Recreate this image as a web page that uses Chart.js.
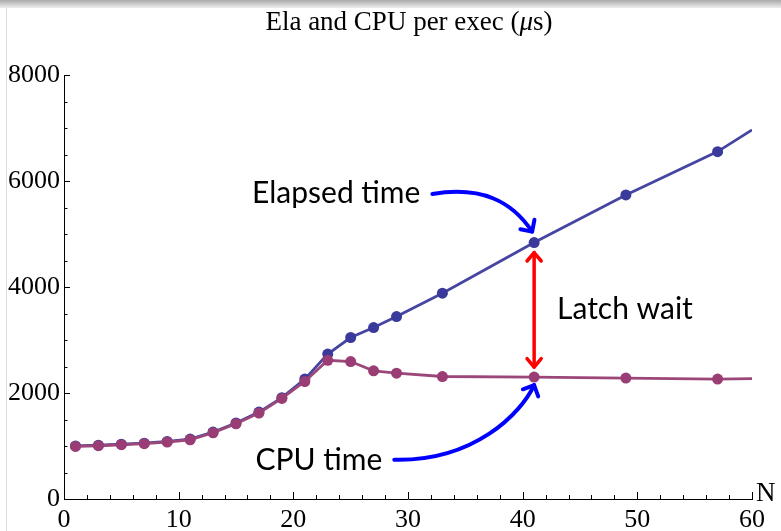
<!DOCTYPE html>
<html>
<head>
<meta charset="utf-8">
<script src="https://cdn.jsdelivr.net/npm/chart.js@4.4.1/dist/chart.umd.min.js"></script>
<style>
  html, body { margin: 0; padding: 0; background: #fff; }
  #wrap { width: 781px; height: 531px; }
</style>
</head>
<body>
<div id="wrap"><canvas id="elaChart" width="781" height="531"></canvas></div>
<script>
// DATA (microseconds per exec)
const nValues = [1, 3, 5, 7, 9, 11, 13, 15, 17, 19, 21, 23, 25, 27, 29, 33, 41, 49, 57, 60];
const elapsedUs = [1002, 1014, 1034, 1054, 1086, 1130, 1262, 1435, 1640, 1912, 2262, 2734, 3047, 3235, 3443, 3884, 4838, 5737, 6554, 6963];
const cpuUs = [992, 1005, 1024, 1043, 1075, 1118, 1250, 1420, 1621, 1897, 2217, 2617, 2594, 2419, 2375, 2311, 2300, 2281, 2262, 2272];
const xTicks = [0, 10, 20, 30, 40, 50, 60];
const yTicks = [0, 2000, 4000, 6000, 8000];

const titleParts = ["Ela and CPU per exec (", "\u03bc", "s)"];
const labelElapsed = "Elapsed time";
const labelCpu = "CPU time";
const labelLatch = "Latch wait";
const markIndex = nValues.indexOf(41);

const serif = "'Liberation Serif', 'Times New Roman', serif";
const sans = "Lato, 'Noto Sans', sans-serif";

const toXY = (ys) => nValues.map((n, i) => ({ x: n, y: ys[i] }));
// last entry is just where the line leaves the frame, no marker there
const markerSize = (ctx) => (ctx.dataIndex === nValues.length - 1 ? 0 : 5.5);

function arrowHead(ctx, tx, ty, ang, len, spread) {
  ctx.beginPath();
  ctx.moveTo(tx - len * Math.cos(ang - spread), ty - len * Math.sin(ang - spread));
  ctx.lineTo(tx, ty);
  ctx.lineTo(tx - len * Math.cos(ang + spread), ty - len * Math.sin(ang + spread));
  ctx.stroke();
}

// background strip + mathematica style inner ticks
const frame = {
  id: "frame",
  beforeDraw(chart) {
    const c = chart.ctx;
    c.save();
    const g = c.createLinearGradient(0, 0, 0, 8);
    g.addColorStop(0, "#a9a9a9");
    g.addColorStop(1, "#eeeeee");
    c.fillStyle = g;
    c.fillRect(0, 0, chart.width, 8);
    c.strokeStyle = "#dcdcdc";
    c.lineWidth = 1;
    c.beginPath();
    c.moveTo(6.5, 8);
    c.lineTo(6.5, chart.height);
    c.stroke();

    // title with italic mu
    c.fillStyle = "#000";
    c.textBaseline = "alphabetic";
    const f1 = "27px " + serif, f2 = "italic 27px " + serif;
    c.font = f1;
    const w0 = c.measureText(titleParts[0]).width;
    const w2 = c.measureText(titleParts[2]).width;
    c.font = f2;
    const w1 = c.measureText(titleParts[1]).width;
    let x = 409 - (w0 + w1 + w2) / 2;
    const y = 30;
    c.font = f1; c.fillText(titleParts[0], x, y); x += w0;
    c.font = f2; c.fillText(titleParts[1], x, y); x += w1;
    c.font = f1; c.fillText(titleParts[2], x, y);
    c.restore();
  },
  afterDraw(chart) {
    const c = chart.ctx;
    const xs = chart.scales.x, ys = chart.scales.y;
    const a = chart.chartArea;
    c.save();
    c.strokeStyle = "#000";
    c.lineWidth = 1;
    c.beginPath();
    for (let v = 0; v <= 60; v += 2) {
      const px = Math.round(xs.getPixelForValue(v)) + 0.5;
      const len = v % 10 === 0 ? 7 : 4;
      c.moveTo(px, a.bottom);
      c.lineTo(px, a.bottom - len);
    }
    for (let v = 0; v <= 8000; v += 500) {
      const py = Math.round(ys.getPixelForValue(v)) + 0.5;
      const len = v % 2000 === 0 ? 6 : 3.5;
      c.moveTo(a.left, py);
      c.lineTo(a.left + len, py);
    }
    c.stroke();
    c.fillStyle = "#000";
    c.font = "27px " + serif;
    c.textBaseline = "middle";
    c.textAlign = "left";
    c.fillText("N", a.right + 4, a.bottom - 5);
    c.restore();
  },
};

// arrows and callout labels
const callouts = {
  id: "callouts",
  afterDatasetsDraw(chart) {
    const c = chart.ctx;
    const xs = chart.scales.x, ys = chart.scales.y;
    const pe = chart.getDatasetMeta(0).data[markIndex];
    const pc = chart.getDatasetMeta(1).data[markIndex];
    c.save();
    c.lineCap = "round";
    c.lineJoin = "round";

    // red double arrow (latch wait)
    c.strokeStyle = "#ff0000";
    c.lineWidth = 3.5;
    const top = pe.y + 10, bot = pc.y - 10;
    c.beginPath();
    c.moveTo(pe.x, top);
    c.lineTo(pe.x, bot);
    c.stroke();
    arrowHead(c, pe.x, top, -Math.PI / 2, 11, 0.7);
    arrowHead(c, pe.x, bot, Math.PI / 2, 11, 0.7);

    c.fillStyle = "#000";
    c.font = "30px " + sans;
    c.textBaseline = "middle";
    c.textAlign = "left";

    // elapsed time label + curved arrow
    const ex = xs.getPixelForValue(16.4), ey = ys.getPixelForValue(5775);
    c.fillText(labelElapsed, ex, ey);
    const ew = c.measureText(labelElapsed).width;
    const s1 = { x: ex + ew + 12, y: ey + 1 };
    const t1 = { x: pe.x - 2, y: pe.y - 11 };
    const c2a = { x: t1.x - 20, y: t1.y - 30 };
    c.strokeStyle = "#0000ff";
    c.lineWidth = 4;
    c.beginPath();
    c.moveTo(s1.x, s1.y);
    c.bezierCurveTo(s1.x + 50, s1.y - 8, c2a.x, c2a.y, t1.x, t1.y);
    c.stroke();
    arrowHead(c, t1.x, t1.y, Math.atan2(t1.y - c2a.y, t1.x - c2a.x), 12, 0.78);

    // cpu time label + curved arrow
    const cx = xs.getPixelForValue(16.7), cy = ys.getPixelForValue(722);
    c.fillText(labelCpu, cx, cy);
    const cw = c.measureText(labelCpu).width;
    const s2 = { x: cx + cw + 12, y: cy - 1 };
    const t2 = { x: pc.x, y: pc.y + 8 };
    const c2b = { x: t2.x - 13, y: t2.y + 28 };
    c.beginPath();
    c.moveTo(s2.x, s2.y);
    c.bezierCurveTo(s2.x + 80, s2.y + 2, c2b.x, c2b.y, t2.x, t2.y);
    c.stroke();
    arrowHead(c, t2.x, t2.y, Math.atan2(t2.y - c2b.y, t2.x - c2b.x), 12, 0.78);

    // latch wait label
    c.fillText(labelLatch, xs.getPixelForValue(43.0), ys.getPixelForValue(3588));
    c.restore();
  },
};

const ctx = document.getElementById("elaChart").getContext("2d");
new Chart(ctx, {
  type: "line",
  data: {
    datasets: [
      {
        label: "Elapsed",
        data: toXY(elapsedUs),
        borderColor: "#4646a2",
        backgroundColor: "#3a3a9c",
        borderWidth: 2.8,
        pointRadius: markerSize,
        pointBorderWidth: 0,
        tension: 0,
        order: 1,
      },
      {
        label: "CPU",
        data: toXY(cpuUs),
        borderColor: "#9c4779",
        backgroundColor: "#993d74",
        borderWidth: 2.8,
        pointRadius: markerSize,
        pointBorderWidth: 0,
        tension: 0,
        order: 0,
      },
    ],
  },
  options: {
    responsive: false,
    animation: false,
    devicePixelRatio: 1,
    layout: { padding: { top: 75, right: 29, bottom: 0, left: 0 } },
    plugins: {
      legend: { display: false },
      title: { display: false },
      tooltip: { enabled: false },
    },
    scales: {
      x: {
        type: "linear",
        min: 0,
        max: 60,
        afterFit: (s) => { s.height = 32; },
        afterBuildTicks: (s) => { s.ticks = xTicks.map((v) => ({ value: v })); },
        grid: { display: false, drawTicks: false },
        border: { display: true, color: "#000", width: 1 },
        ticks: {
          color: "#000",
          padding: 6,
          maxRotation: 0,
          callback: (v) => String(v),
          font: { family: serif, size: 26 },
        },
      },
      y: {
        type: "linear",
        min: 0,
        max: 8000,
        afterFit: (s) => { s.width = 64; },
        afterBuildTicks: (s) => { s.ticks = yTicks.map((v) => ({ value: v })); },
        grid: { display: false, drawTicks: false },
        border: { display: true, color: "#000", width: 1 },
        ticks: {
          color: "#000",
          padding: 4,
          callback: (v) => String(v),
          font: { family: serif, size: 26 },
        },
      },
    },
  },
  plugins: [frame, callouts],
});
</script>
</body>
</html>
